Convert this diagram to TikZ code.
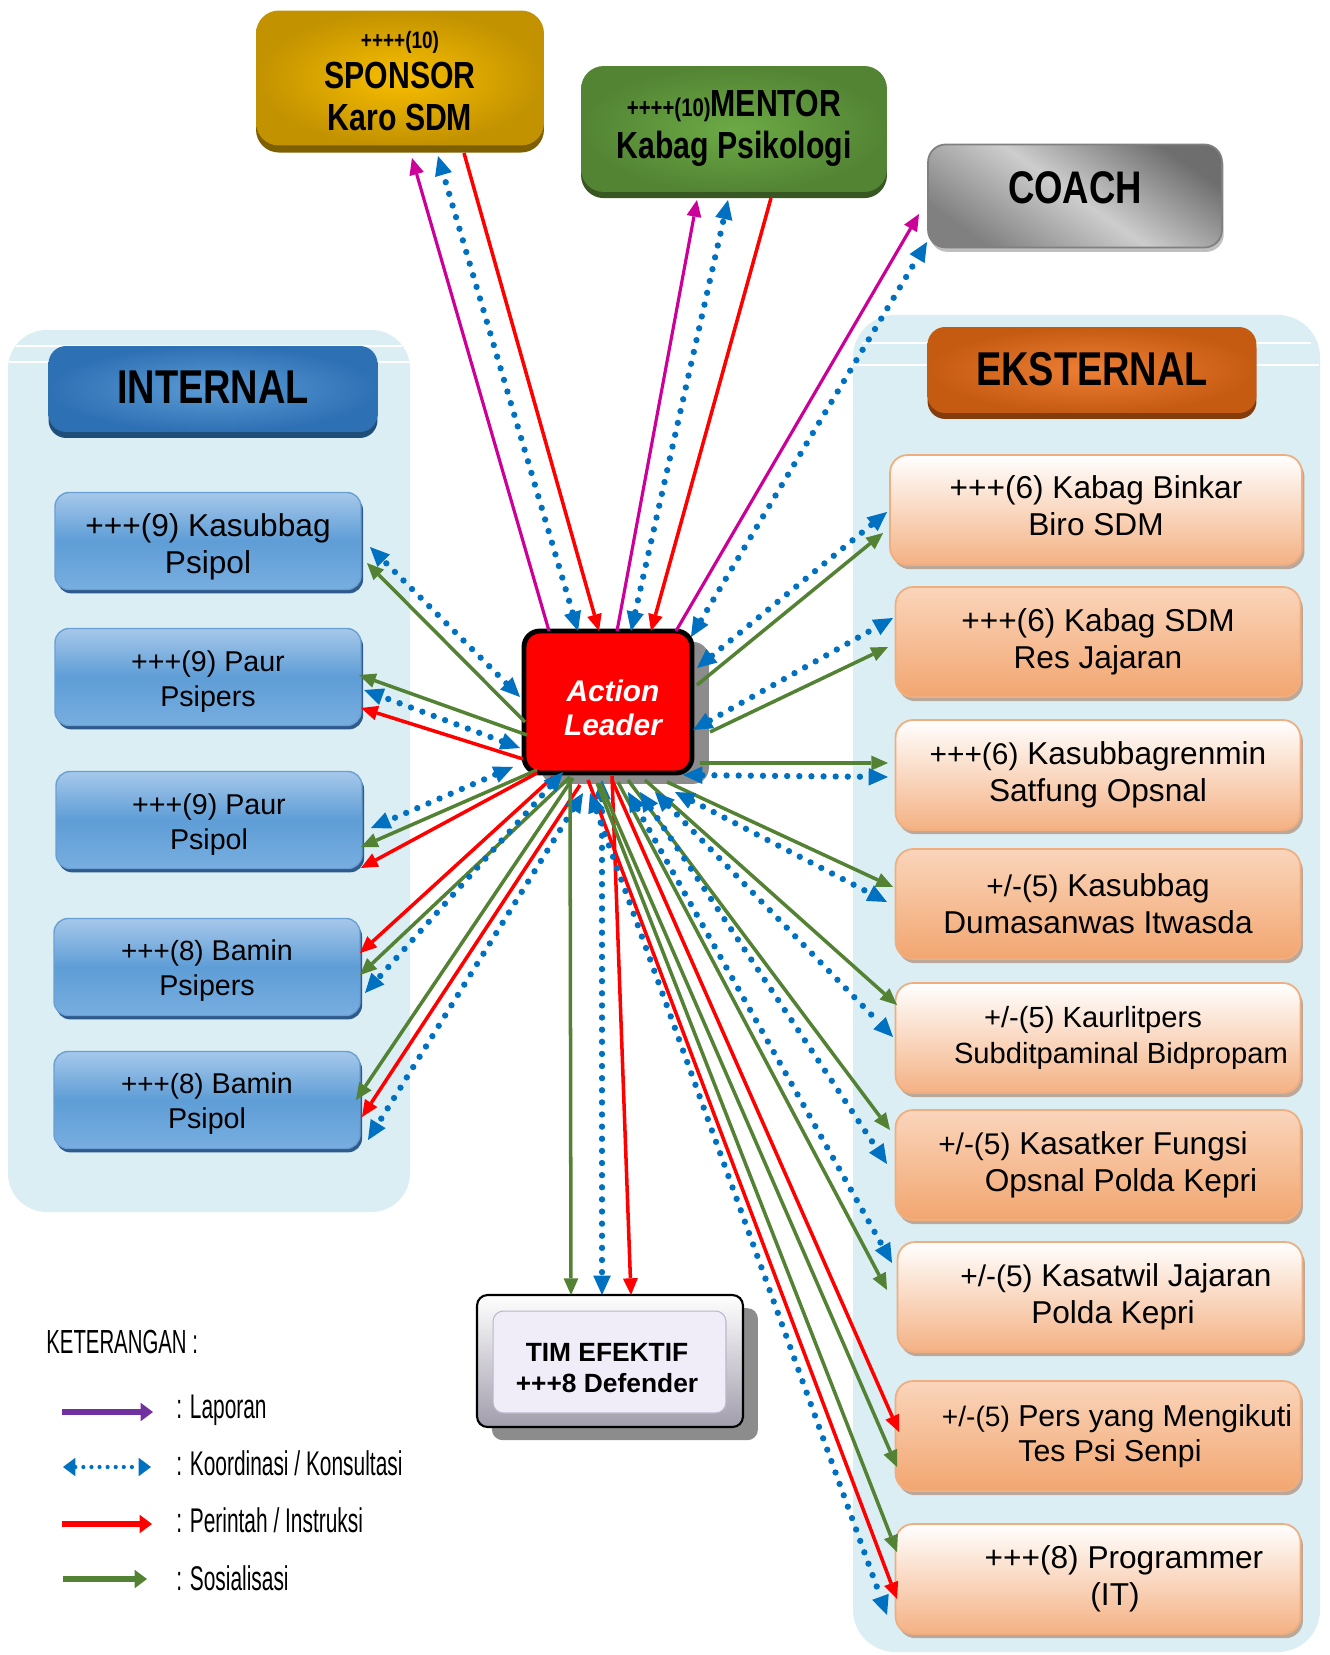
\documentclass[tikz,border=0pt]{standalone}
\usepackage{fontspec}
\setmainfont{Liberation Sans}
\newfontfamily\condfont[FakeStretch=0.8]{Liberation Sans}
\newfontfamily\legfont[FakeStretch=0.61]{Liberation Sans}
\usetikzlibrary{arrows.meta,calc,shadows}

\definecolor{panel}{HTML}{DAEEF3}
\definecolor{cBlue}{HTML}{0070C0}
\definecolor{cRed}{HTML}{FF0000}
\definecolor{cGreen}{HTML}{548235}
\definecolor{cMag}{HTML}{CC0099}
\definecolor{cPurple}{HTML}{7030A0}
\definecolor{spIn}{HTML}{F8BE00}
\definecolor{spOut}{HTML}{C29200}
\definecolor{spDark}{HTML}{7F6000}
\definecolor{mtIn}{HTML}{6CAA45}
\definecolor{mtOut}{HTML}{538434}
\definecolor{mtDark}{HTML}{385723}
\definecolor{coDark}{HTML}{6E6E6E}
\definecolor{coLight}{HTML}{CDCDCD}
\definecolor{coDark2}{HTML}{808080}
\definecolor{ihIn}{HTML}{5B9BD5}
\definecolor{ihOut}{HTML}{2E70B4}
\definecolor{ihDark}{HTML}{1F4E79}
\definecolor{ehIn}{HTML}{EE8036}
\definecolor{ehOut}{HTML}{C55A11}
\definecolor{ehDark}{HTML}{843C0C}
\definecolor{iTop}{HTML}{A6C8EA}
\definecolor{iMid}{HTML}{5E9DD6}
\definecolor{iBot}{HTML}{78AEE0}
\definecolor{iLine}{HTML}{6A9FD4}
\definecolor{iShadow}{HTML}{2E5A8C}
\definecolor{eTop}{HTML}{FFFFFF}
\definecolor{eBot}{HTML}{F4B183}
\definecolor{eTop2}{HTML}{FAD5BB}
\definecolor{eBot2}{HTML}{F2A670}
\definecolor{eLine}{HTML}{F0AE80}
\definecolor{eShadow}{HTML}{BBA89A}
\definecolor{timFace}{HTML}{F0ECF8}
\definecolor{timEdge}{HTML}{A19DAB}
\definecolor{timLine}{HTML}{BEB6CE}
\definecolor{shGray}{HTML}{8C8C8C}

% smaller rank prefixes
\newcommand\smf{\fontsize{17}{20}\selectfont}
\newcommand\smi{\fontsize{15.8}{19}\selectfont}

\tikzset{
  topbox/.style={rounded corners=13pt, inner sep=0pt, align=center},
  toptext/.style={inner sep=0pt, align=center,
    font=\condfont\bfseries\fontsize{21.5}{24}\selectfont},
  headbox/.style={rounded corners=10pt, inner sep=0pt, align=center,
    minimum width=6.58cm, minimum height=1.72cm,
    font=\condfont\bfseries\fontsize{27}{30}\selectfont},
  ibox/.style={rounded corners=8pt, inner sep=0pt,
    minimum width=6.12cm, minimum height=1.94cm,
    draw=iLine, line width=0.8pt,
    top color=iTop, bottom color=iBot, middle color=iMid,
    drop shadow={shadow xshift=1.2pt, shadow yshift=-2.2pt, fill=iShadow, opacity=1}},
  itext/.style={inner sep=0pt, align=center, font=\fontsize{16.3}{20}\selectfont},
  ebox/.style={rounded corners=10pt, inner sep=0pt, align=center,
    minimum width=8.1cm, minimum height=2.2cm,
    draw=eLine, line width=1pt,
    drop shadow={shadow xshift=1.4pt, shadow yshift=-2.4pt, fill=eShadow, opacity=1},
    font=\fontsize{18}{21}\selectfont},
  eodd/.style={ebox, top color=eTop, bottom color=eBot},
  eeven/.style={ebox, top color=eTop2, bottom color=eBot2},
  con/.style={line width=2pt},
  rd/.style={con, draw=cRed, -{Triangle[length=9.5pt,width=8.5pt,line width=0pt]}},
  gr/.style={con, draw=cGreen, -{Triangle[length=9.5pt,width=8.5pt,line width=0pt]}},
  mg/.style={line width=1.8pt, draw=cMag, -{Triangle[length=9.5pt,width=8.5pt,line width=0pt]}},
  bl/.style={draw=cBlue, line width=3.6pt, line cap=round, dash pattern=on 0pt off 6.9pt,
    {Triangle[length=11pt,width=10pt,line width=0pt]}-{Triangle[length=11pt,width=10pt,line width=0pt]}},
  legtext/.style={anchor=base west, inner sep=0pt, font=\legfont\fontsize{19.5}{22}\selectfont},
  legsolid/.style={line width=3.4pt, -{Triangle[length=7pt,width=10.5pt,line width=0pt]}},
}

\begin{document}
\begin{tikzpicture}[x=0.02cm,y=-0.02cm]
\useasboundingbox (0,0) rectangle (1329,1655);

% ---- side panels ----
\fill[panel, rounded corners=22pt] (8,330) rectangle (410,1212);
\draw[white, line width=1.4pt] (16,346) -- (402,346);
\draw[white, line width=1.4pt] (9,362) -- (409,362);
\fill[panel, rounded corners=24pt] (853,315) rectangle (1320,1652);
\draw[white, line width=1.4pt] (862,343) -- (1311,343);
\draw[white, line width=1.4pt] (854,365) -- (1319,365);

% ---- top roles ----
\node[topbox, minimum width=5.76cm, minimum height=2.70cm,
      inner color=spIn, outer color=spOut,
      drop shadow={shadow xshift=0pt, shadow yshift=-4pt, fill=spDark, opacity=1}]
  (sp) at (400,78) {};
\node[toptext] (spt) at ($(sp.center)+(0,3)$)
  {{\fontsize{13.5}{15}\selectfont ++++(10)}\\[-1pt]SPONSOR\\Karo SDM};

\node[topbox, minimum width=6.12cm, minimum height=2.52cm,
      inner color=mtIn, outer color=mtOut,
      drop shadow={shadow xshift=0pt, shadow yshift=-3.5pt, fill=mtDark, opacity=1}]
  (mt) at (734,129) {};
\node[toptext] (mtt) at ($(mt.center)+(0,-1)$)
  {{\fontsize{14.5}{16}\selectfont ++++(10)}MENTOR\\Kabag Psikologi};

\node[topbox, rounded corners=10pt, minimum width=5.88cm, minimum height=2.06cm,
      draw=coDark2, line width=1pt,
      top color=coDark, bottom color=coDark2, middle color=coLight, shading angle=-35,
      drop shadow={shadow xshift=1pt, shadow yshift=-2.5pt, fill=black!25, opacity=1},
      font=\condfont\bfseries\fontsize{26}{28}\selectfont]
  (co) at (1075,196) {\raisebox{9.7pt}{COACH}};

% ---- group headers ----
\node[headbox, inner color=ihIn, outer color=ihOut,
      drop shadow={shadow xshift=0pt, shadow yshift=-3.4pt, fill=ihDark, opacity=1}]
  (ih) at (213,389) {\raisebox{1.7pt}{INTERNAL}};
\node[headbox, inner color=ehIn, outer color=ehOut,
      drop shadow={shadow xshift=0pt, shadow yshift=-3.4pt, fill=ehDark, opacity=1}]
  (eh) at (1092,370) {\raisebox{1.7pt}{EKSTERNAL}};

% ---- internal units ----
\node[ibox] (i1) at (208,541) {};
\node[ibox] (i2) at (208,677) {};
\node[ibox] (i3) at (209,820) {};
\node[ibox] (i4) at (207,967) {};
\node[ibox] (i5) at (207,1100) {};
\node[itext, font=\fontsize{18}{21}\selectfont] (i1t) at ($(i1.center)+(0,6)$) {+++(9) Kasubbag\\Psipol};
\node[itext] (i2t) at ($(i2.center)+(0,5)$) {+++(9) Paur\\Psipers};
\node[itext] (i3t) at ($(i3.center)+(0,5)$) {+++(9) Paur\\Psipol};
\node[itext] (i4t) at ($(i4.center)+(0,4)$) {{\smi +++(8)} Bamin\\Psipers};
\node[itext] (i5t) at ($(i5.center)+(0,4)$) {{\smi +++(8)} Bamin\\Psipol};

% ---- external units ----
\node[eodd, minimum width=8.24cm] (e1) at (1096,510) {};
\node[inner sep=0pt, align=center, font=\fontsize{18}{21}\selectfont]
  (e1t) at ($(e1.center)+(0,-4)$) {+++(6) Kabag Binkar\\Biro SDM};
\node[eeven] (e2) at (1098,642) {+++(6) Kabag SDM\\Res Jajaran};
\node[eodd]  (e3) at (1098,775) {{\smf +++(6)} Kasubbagrenmin\\Satfung Opsnal};
\node[eeven] (e4) at (1098,904) {{\smf +/-(5)} Kasubbag\\Dumasanwas Itwasda};
\node[eodd, font=\fontsize{16.6}{20}\selectfont] (e5) at (1098,1038)
  {\hspace*{-0.2cm}+/-(5) Kaurlitpers\\\hspace*{0.92cm}Subditpaminal Bidpropam};
\node[eeven] (e6) at (1098,1165)
  {\hspace*{-0.2cm}{\smf +/-(5)} Kasatker Fungsi\\\hspace*{0.92cm}Opsnal Polda Kepri};
\node[eodd]  (e7) at (1100,1297)
  {\hspace*{0.64cm}{\smf +/-(5)} Kasatwil Jajaran\\\hspace*{0.52cm}Polda Kepri};
\node[eeven, font=\fontsize{17.2}{20}\selectfont] (e8) at (1098,1436)
  {\hspace*{0.76cm}{\fontsize{16}{19}\selectfont +/-(5)} Pers yang Mengikuti\\\hspace*{0.48cm}Tes Psi Senpi};
\node[eodd]  (e9) at (1098,1579)
  {\hspace*{1.04cm}+++(8) Programmer\\\hspace*{0.68cm}(IT)};

% ---- central role ----
\node[fill=cRed, draw=black, line width=2.8pt, rounded corners=9pt,
      minimum width=3.36cm, minimum height=2.84cm, inner sep=0pt,
      drop shadow={shadow xshift=9.6pt, shadow yshift=-6.2pt, fill=shGray, opacity=1}]
  (al) at (608,702) {};
\node[inner sep=0pt, align=center, text=white,
      font=\bfseries\itshape\fontsize{17}{19.5}\selectfont]
  (alt) at ($(al.center)+(5,6)$) {Action\\Leader};

% ---- effective team ----
\node[draw=black, line width=1.2pt, rounded corners=6pt,
      minimum width=5.32cm, minimum height=2.64cm, inner sep=0pt,
      top color=white, bottom color=timEdge,
      drop shadow={shadow xshift=8.5pt, shadow yshift=-7.5pt, fill=shGray, opacity=1},
      path picture={\draw[fill=timFace, draw=timLine, line width=0.6pt]
        ($(path picture bounding box.north west)+(16,16)$) rectangle
        ($(path picture bounding box.south east)+(-17,-14)$);}]
  (tim) at (610,1361) {};
\node[inner sep=0pt, align=center, font=\bfseries\fontsize{15}{17.5}\selectfont]
  (timt) at ($(tim.center)+(-3,7)$) {TIM EFEKTIF\\+++8 Defender};

% ---- links to sponsor, mentor, coach ----
\draw[mg] ($(al.center)+(-59,-71)$) -- ($(sp.center)+(12,80)$);
\draw[bl] ($(al.center)+(-30,-71)$) -- ($(sp.center)+(38,78)$);
\draw[rd] ($(sp.center)+(64,75)$) -- ($(al.center)+(-9,-71)$);
\draw[mg] ($(al.center)+(9,-71)$) -- ($(mt.center)+(-37,71)$);
\draw[bl] ($(al.center)+(23,-71)$) -- ($(mt.center)+(-6,71)$);
\draw[rd] ($(mt.center)+(37,69)$) -- ($(al.center)+(43,-71)$);
\draw[mg] ($(al.center)+(68,-71)$) -- ($(co.center)+(-156,18)$);
\draw[bl] ($(al.center)+(83,-65)$) -- ($(co.center)+(-148,46)$);

% ---- links to internal units ----
\draw[bl] ($(al.center)+(-88,-5)$) -- ($(i1.center)+(162,6)$);
\draw[gr] ($(al.center)+(-83,20)$) -- ($(i1.center)+(159,22)$);
\draw[gr] ($(al.center)+(-81,33)$) -- ($(i2.center)+(151,-2)$);
\draw[bl] ($(al.center)+(-88,46)$) -- ($(i2.center)+(156,13)$);
\draw[rd] ($(al.center)+(-85,57)$) -- ($(i2.center)+(153,31)$);
\draw[bl] ($(al.center)+(-95,65)$) -- ($(i3.center)+(162,8)$);
\draw[gr] ($(al.center)+(-71,68)$) -- ($(i3.center)+(152,27)$);
\draw[rd] ($(al.center)+(-71,71)$) -- ($(i3.center)+(152,48)$);
\draw[rd] ($(al.center)+(-55,75)$) -- ($(i4.center)+(153,-14)$);
\draw[gr] ($(al.center)+(-38,75)$) -- ($(i4.center)+(153,8)$);
\draw[bl] ($(al.center)+(-45,70)$) -- ($(i4.center)+(158,26)$);
\draw[gr] ($(al.center)+(-35,76)$) -- ($(i5.center)+(149,0)$);
\draw[rd] ($(al.center)+(-28,83)$) -- ($(i5.center)+(155,17)$);
\draw[bl] ($(al.center)+(-25,91)$) -- ($(i5.center)+(161,40)$);

% ---- links to the team ----
\draw[gr] ($(al.center)+(-38,76)$) -- ($(tim.center)+(-39,-66)$);
\draw[bl] ($(al.center)+(-6,78)$) -- ($(tim.center)+(-8,-66)$);
\draw[rd] ($(al.center)+(4,74)$) -- ($(tim.center)+(21,-66)$);

% ---- links to external units ----
\draw[bl] ($(al.center)+(89,-34)$) -- ($(e1.center)+(-209,2)$);
\draw[gr] ($(al.center)+(89,-17)$) -- ($(e1.center)+(-213,23)$);
\draw[bl] ($(al.center)+(85,28)$) -- ($(e2.center)+(-205,-24)$);
\draw[gr] ($(al.center)+(102,30)$) -- ($(e2.center)+(-210,5)$);
\draw[gr] ($(al.center)+(92,61)$) -- ($(e3.center)+(-210,-12)$);
\draw[bl] ($(al.center)+(75,73)$) -- ($(e3.center)+(-210,2)$);
\draw[gr] ($(al.center)+(59,80)$) -- ($(e4.center)+(-205,-17)$);
\draw[bl] ($(al.center)+(67,90)$) -- ($(e4.center)+(-211,-2)$);
\draw[gr] ($(al.center)+(37,78)$) -- ($(e5.center)+(-201,-33)$);
\draw[bl] ($(al.center)+(47,90)$) -- ($(e5.center)+(-205,-1)$);
\draw[gr] ($(al.center)+(20,78)$) -- ($(e6.center)+(-208,-35)$);
\draw[bl] ($(al.center)+(32,90)$) -- ($(e6.center)+(-211,-1)$);
\draw[gr] ($(al.center)+(10,80)$) -- ($(e7.center)+(-213,-7)$);
\draw[bl] ($(al.center)+(20,90)$) -- ($(e7.center)+(-208,-34)$);
\draw[rd] ($(al.center)+(4,78)$) -- ($(e8.center)+(-199,-4)$);
\draw[gr] ($(al.center)+(-8,81)$) -- ($(e8.center)+(-201,31)$);
\draw[gr] ($(al.center)+(-11,81)$) -- ($(e9.center)+(-201,-27)$);
\draw[rd] ($(al.center)+(-20,78)$) -- ($(e9.center)+(-201,20)$);
\draw[bl] ($(al.center)+(-18,91)$) -- ($(e9.center)+(-211,36)$);

% ---- legend ----
\node[legtext, font=\legfont\fontsize{19}{22}\selectfont] (lk) at (46,1353) {KETERANGAN :};
\coordinate (la1) at (62,1412);  \coordinate (la2) at (153,1412);
\coordinate (lb1) at (63,1467);  \coordinate (lb2) at (151,1467);
\coordinate (lc1) at (62,1524);  \coordinate (lc2) at (152,1524);
\coordinate (ld1) at (63,1579);  \coordinate (ld2) at (147,1579);
\draw[legsolid, draw=cPurple] (la1) -- (la2);
\draw[draw=cBlue, line width=2.4pt, line cap=round, dash pattern=on 0pt off 4.6pt,
      {Triangle[length=7pt,width=10.5pt,line width=0pt]}-{Triangle[length=7pt,width=10.5pt,line width=0pt]}]
  (lb1) -- (lb2);
\draw[legsolid, draw=cRed] (lc1) -- (lc2);
\draw[legsolid, draw=cGreen] (ld1) -- (ld2);
\node[legtext] (l1) at (176,1418) {: Laporan};
\node[legtext] (l2) at (176,1475) {: Koordinasi / Konsultasi};
\node[legtext] (l3) at (176,1532) {: Perintah / Instruksi};
\node[legtext] (l4) at (176,1590) {: Sosialisasi};
\end{tikzpicture}
\end{document}
